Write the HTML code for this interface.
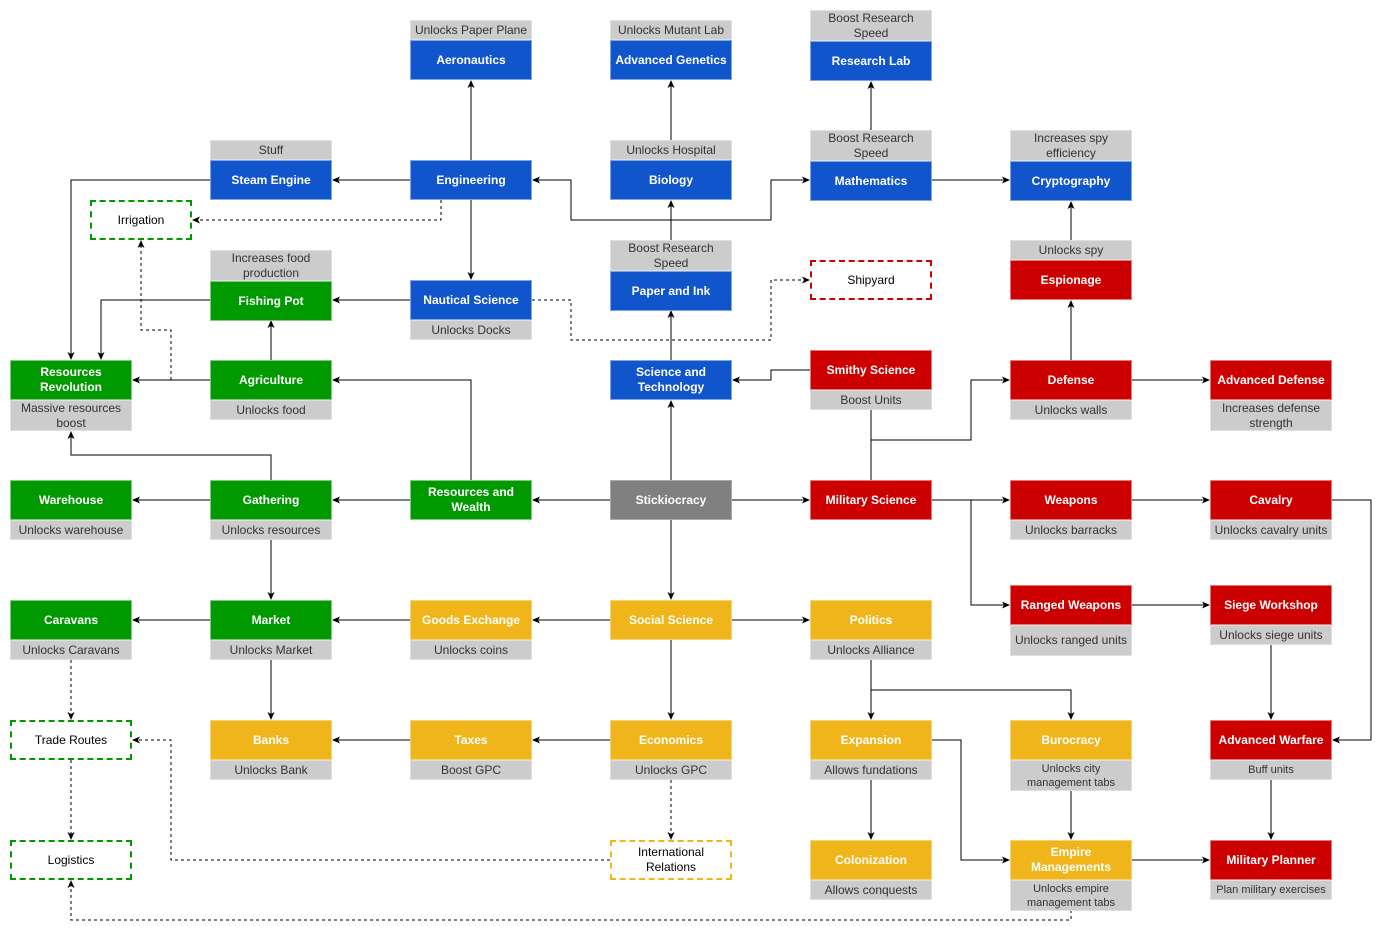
<!DOCTYPE html>
<html><head><meta charset="utf-8"><style>
body{margin:0;width:1391px;height:941px;background:#fff;position:relative;overflow:hidden;font-family:"Liberation Sans",Arial,sans-serif}
.n,.l,.d{position:absolute;width:122px;box-sizing:border-box;display:flex;align-items:center;justify-content:center;text-align:center;line-height:15px}
.n{height:40px;color:#fff;font-weight:bold;font-size:12px}
.b{background:#1155cc;border:1px solid #7ea6e0}
.g{background:#009900;border:1px solid #82c982}
.r{background:#cc0000;border:1px solid #e57a7a}
.y{background:#f0b51a;border:1px solid #f5d27a}
.k{background:#808080;border:1px solid #aaa}
.l{background:#cccccc;border:1px solid #e0e0e0;color:#333;font-size:12px;height:20px}
.l2{height:31px}
.s{font-size:11px;line-height:14px}
.d{height:40px;background:#fff;font-size:12px;color:#000;border:2px dashed}
svg{position:absolute;left:0;top:0}
</style></head><body>
<svg width="1391" height="941">
<defs><marker id="a" markerWidth="8" markerHeight="8" refX="7" refY="4" orient="auto" markerUnits="userSpaceOnUse"><path d="M0,0.5 L8,4 L0,7.5 L2,4 z" fill="#000"/></marker></defs>
<g fill="none" stroke="#000" stroke-width="1" marker-end="url(#a)">
<path d="M471,160V81"/>
<path d="M671,160V81"/>
<path d="M871,130V82"/>
<path d="M410,180H333"/>
<path d="M210,180H71V359"/>
<path d="M441,200V220H193" stroke-dasharray="3,3"/>
<path d="M471,200V279"/>
<path d="M671,240V201"/>
<path d="M671,220H571V180H533"/>
<path d="M671,220H771V180H809"/>
<path d="M932,180H1009"/>
<path d="M1071,240V202"/>
<path d="M1071,360V301"/>
<path d="M410,300H333"/>
<path d="M210,300H101V359"/>
<path d="M532,300H571V340H771V280H809" stroke-dasharray="3,3"/>
<path d="M271,360V321"/>
<path d="M210,380H133"/>
<path d="M171,380V330H141V241" stroke-dasharray="3,3"/>
<path d="M471,480V380H333"/>
<path d="M671,480V401"/>
<path d="M671,360V311"/>
<path d="M810,370H771V380H733"/>
<path d="M871,480V410" marker-end="none"/>
<path d="M871,440H971V380H1009"/>
<path d="M1132,380H1209"/>
<path d="M271,480V455H71V432"/>
<path d="M210,500H133"/>
<path d="M410,500H333"/>
<path d="M610,500H533"/>
<path d="M732,500H809"/>
<path d="M932,500H1009"/>
<path d="M971,500V605H1009"/>
<path d="M1132,500H1209"/>
<path d="M1332,500H1371V740H1333"/>
<path d="M1132,605H1209"/>
<path d="M1271,645V719"/>
<path d="M671,520V599"/>
<path d="M271,540V599"/>
<path d="M610,620H533"/>
<path d="M410,620H333"/>
<path d="M210,620H133"/>
<path d="M732,620H809"/>
<path d="M271,660V719"/>
<path d="M71,660V719" stroke-dasharray="3,3"/>
<path d="M71,760V839" stroke-dasharray="3,3"/>
<path d="M671,640V719"/>
<path d="M610,740H533"/>
<path d="M410,740H333"/>
<path d="M671,780V839" stroke-dasharray="3,3"/>
<path d="M610,860H171V740H133" stroke-dasharray="3,3"/>
<path d="M871,660V719"/>
<path d="M871,690H1071V719"/>
<path d="M871,780V839"/>
<path d="M932,740H961V860H1009"/>
<path d="M1071,790V839"/>
<path d="M1132,860H1209"/>
<path d="M1271,780V839"/>
<path d="M1071,910V920H71V881" stroke-dasharray="3,3"/>
</g></svg>

<div class="l" style="left:410px;top:20px">Unlocks Paper Plane</div>
<div class="n b" style="left:410px;top:40px">Aeronautics</div>
<div class="l" style="left:610px;top:20px">Unlocks Mutant Lab</div>
<div class="n b" style="left:610px;top:40px">Advanced Genetics</div>
<div class="l l2" style="left:810px;top:10px">Boost Research<br>Speed</div>
<div class="n b" style="left:810px;top:41px">Research Lab</div>

<div class="l" style="left:210px;top:140px">Stuff</div>
<div class="n b" style="left:210px;top:160px">Steam Engine</div>
<div class="n b" style="left:410px;top:160px">Engineering</div>
<div class="l" style="left:610px;top:140px">Unlocks Hospital</div>
<div class="n b" style="left:610px;top:160px">Biology</div>
<div class="l l2" style="left:810px;top:130px">Boost Research<br>Speed</div>
<div class="n b" style="left:810px;top:161px">Mathematics</div>
<div class="l l2" style="left:1010px;top:130px">Increases spy<br>efficiency</div>
<div class="n b" style="left:1010px;top:161px">Cryptography</div>

<div class="d" style="left:90px;top:200px;width:102px;border-color:#009900">Irrigation</div>

<div class="l l2" style="left:210px;top:250px">Increases food<br>production</div>
<div class="n g" style="left:210px;top:281px">Fishing Pot</div>
<div class="n b" style="left:410px;top:280px">Nautical Science</div>
<div class="l" style="left:410px;top:320px">Unlocks Docks</div>
<div class="l l2" style="left:610px;top:240px">Boost Research<br>Speed</div>
<div class="n b" style="left:610px;top:271px">Paper and Ink</div>
<div class="d" style="left:810px;top:260px;border-color:#cc0000">Shipyard</div>
<div class="l" style="left:1010px;top:240px">Unlocks spy</div>
<div class="n r" style="left:1010px;top:260px">Espionage</div>

<div class="n g" style="left:10px;top:360px">Resources<br>Revolution</div>
<div class="l l2" style="left:10px;top:400px">Massive resources<br>boost</div>
<div class="n g" style="left:210px;top:360px">Agriculture</div>
<div class="l" style="left:210px;top:400px">Unlocks food</div>
<div class="n b" style="left:610px;top:360px">Science and<br>Technology</div>
<div class="n r" style="left:810px;top:350px">Smithy Science</div>
<div class="l" style="left:810px;top:390px">Boost Units</div>
<div class="n r" style="left:1010px;top:360px">Defense</div>
<div class="l" style="left:1010px;top:400px">Unlocks walls</div>
<div class="n r" style="left:1210px;top:360px">Advanced Defense</div>
<div class="l l2" style="left:1210px;top:400px">Increases defense<br>strength</div>

<div class="n g" style="left:10px;top:480px">Warehouse</div>
<div class="l" style="left:10px;top:520px">Unlocks warehouse</div>
<div class="n g" style="left:210px;top:480px">Gathering</div>
<div class="l" style="left:210px;top:520px">Unlocks resources</div>
<div class="n g" style="left:410px;top:480px">Resources and<br>Wealth</div>
<div class="n k" style="left:610px;top:480px">Stickiocracy</div>
<div class="n r" style="left:810px;top:480px">Military Science</div>
<div class="n r" style="left:1010px;top:480px">Weapons</div>
<div class="l" style="left:1010px;top:520px">Unlocks barracks</div>
<div class="n r" style="left:1210px;top:480px">Cavalry</div>
<div class="l" style="left:1210px;top:520px">Unlocks cavalry units</div>

<div class="n r" style="left:1010px;top:585px">Ranged Weapons</div>
<div class="l l2" style="left:1010px;top:625px">Unlocks ranged units</div>
<div class="n r" style="left:1210px;top:585px">Siege Workshop</div>
<div class="l" style="left:1210px;top:625px">Unlocks siege units</div>

<div class="n g" style="left:10px;top:600px">Caravans</div>
<div class="l" style="left:10px;top:640px">Unlocks Caravans</div>
<div class="n g" style="left:210px;top:600px">Market</div>
<div class="l" style="left:210px;top:640px">Unlocks Market</div>
<div class="n y" style="left:410px;top:600px">Goods Exchange</div>
<div class="l" style="left:410px;top:640px">Unlocks coins</div>
<div class="n y" style="left:610px;top:600px">Social Science</div>
<div class="n y" style="left:810px;top:600px">Politics</div>
<div class="l" style="left:810px;top:640px">Unlocks Alliance</div>

<div class="d" style="left:10px;top:720px;border-color:#009900">Trade Routes</div>
<div class="n y" style="left:210px;top:720px">Banks</div>
<div class="l" style="left:210px;top:760px">Unlocks Bank</div>
<div class="n y" style="left:410px;top:720px">Taxes</div>
<div class="l" style="left:410px;top:760px">Boost GPC</div>
<div class="n y" style="left:610px;top:720px">Economics</div>
<div class="l" style="left:610px;top:760px">Unlocks GPC</div>
<div class="n y" style="left:810px;top:720px">Expansion</div>
<div class="l" style="left:810px;top:760px">Allows fundations</div>
<div class="n y" style="left:1010px;top:720px">Burocracy</div>
<div class="l l2 s" style="left:1010px;top:760px">Unlocks city<br>management tabs</div>
<div class="n r" style="left:1210px;top:720px">Advanced Warfare</div>
<div class="l s" style="left:1210px;top:760px">Buff units</div>

<div class="d" style="left:10px;top:840px;border-color:#009900">Logistics</div>
<div class="d" style="left:610px;top:840px;border-color:#f0b51a">International<br>Relations</div>
<div class="n y" style="left:810px;top:840px">Colonization</div>
<div class="l" style="left:810px;top:880px">Allows conquests</div>
<div class="n y" style="left:1010px;top:840px">Empire<br>Managements</div>
<div class="l l2 s" style="left:1010px;top:880px">Unlocks empire<br>management tabs</div>
<div class="n r" style="left:1210px;top:840px">Military Planner</div>
<div class="l s" style="left:1210px;top:880px">Plan military exercises</div>
</body></html>
